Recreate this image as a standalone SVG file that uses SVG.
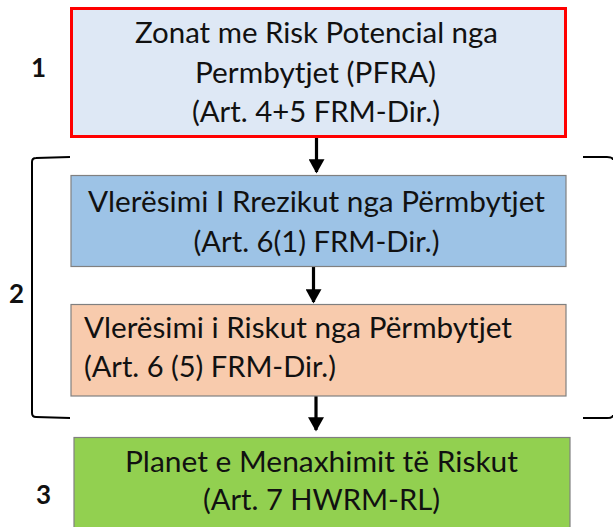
<svg xmlns="http://www.w3.org/2000/svg" width="613" height="527" viewBox="0 0 613 527">
<defs>
<style>
text{font-family:Lato,"Open Sans","Liberation Sans",sans-serif;font-size:28px;fill:#111}
.c{text-anchor:middle}
.lab{font-weight:bold;font-size:26px}
.box{stroke:#808080;stroke-width:1.2}
.br{fill:none;stroke:#000;stroke-width:2}
.ar{stroke:#000;stroke-width:3.2;fill:none}
</style>
<marker id="ah" markerWidth="5" markerHeight="5" refX="4" refY="2.5" orient="auto" markerUnits="strokeWidth">
<path d="M0,0 L4.5,2.5 L0,5 Z" fill="#000"/>
</marker>
</defs>
<rect width="613" height="527" fill="#fff"/>
<g id="brackets">
<path class="br" d="M70,157 L36,158 Q32,158 32,162 L32,413 Q32,417 36,417 L70,418"/>
<path class="br" d="M583,157 L607,157 Q613,157 613,160"/>
<path class="br" d="M583,418 L607,418 Q613,418 613,415"/>
</g>
<g id="connectors">
<line class="ar" x1="316.5" y1="138" x2="316.5" y2="172" marker-end="url(#ah)"/>
<line class="ar" x1="313.5" y1="267" x2="313.5" y2="302" marker-end="url(#ah)"/>
<line class="ar" x1="316" y1="396" x2="316" y2="430" marker-end="url(#ah)"/>
</g>
<g id="n1">
<rect x="71.5" y="8.5" width="494" height="128" fill="#dee8f5" stroke="#ff0000" stroke-width="3"/>
<text class="c" x="316.5" y="43" textLength="363" lengthAdjust="spacingAndGlyphs">Zonat me Risk Potencial nga</text>
<text class="c" x="315.5" y="83" textLength="241" lengthAdjust="spacingAndGlyphs">Permbytjet (PFRA)</text>
<text class="c" x="316" y="122" textLength="248" lengthAdjust="spacingAndGlyphs">(Art. 4+5 FRM-Dir.)</text>
</g>
<g id="n2">
<rect class="box" x="71" y="175.5" width="495" height="91" fill="#9dc3e6"/>
<text class="c" x="316.5" y="212" textLength="457" lengthAdjust="spacingAndGlyphs">Vlerësimi I Rrezikut nga Përmbytjet</text>
<text class="c" x="316.5" y="252" textLength="246" lengthAdjust="spacingAndGlyphs">(Art. 6(1) FRM-Dir.)</text>
</g>
<g id="n3">
<rect class="box" x="71" y="304.5" width="495" height="91.5" fill="#f8cbad"/>
<text x="84" y="338" textLength="428" lengthAdjust="spacingAndGlyphs">Vlerësimi i Riskut nga Përmbytjet</text>
<text x="84" y="377" textLength="252" lengthAdjust="spacingAndGlyphs">(Art. 6 (5) FRM-Dir.)</text>
</g>
<g id="n4">
<rect class="box" x="74" y="437.5" width="496" height="95" fill="#92d050" stroke="#555"/>
<text class="c" x="321.5" y="472" textLength="393" lengthAdjust="spacingAndGlyphs">Planet e Menaxhimit të Riskut</text>
<text class="c" x="321.5" y="510" textLength="237" lengthAdjust="spacingAndGlyphs">(Art. 7 HWRM-RL)</text>
</g>
<g id="labels">
<text class="lab" x="31" y="77">1</text>
<text class="lab" x="9" y="303">2</text>
<text class="lab" x="36" y="504">3</text>
</g>
</svg>
